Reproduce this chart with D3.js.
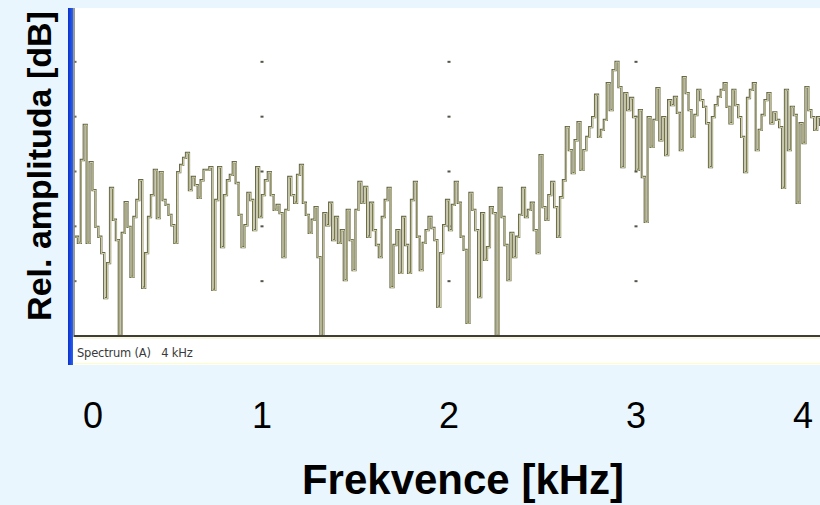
<!DOCTYPE html>
<html>
<head>
<meta charset="utf-8">
<script src="https://cdn.jsdelivr.net/npm/d3@7/dist/d3.min.js"></script>
<style>
  html, body { margin: 0; padding: 0; background: #eaf6fd; }
  svg { display: block; }
</style>
</head>
<body>
<svg id="chart" width="820" height="505"></svg>
<script>
// ---- data ----------------------------------------------------------------
const maxFreqKHz = 4;
const xTickValues = [0, 1, 2, 3, 4];
const xTickLabels = ["0", "1", "2", "3", "4"];
const gridLevelsDb = [-10, -20, -30, -40, -50];
const xTitle = "Frekvence [kHz]";
const yTitle = "Rel. amplituda [dB]";
const statusText = "Spectrum (A)   4 kHz";

// relative amplitude per FFT bin (256 bins spanning 0–4 kHz), dB
const amplitudeDb = [
  -41.9, -43.0, -27.9, -21.5, -43.0, -28.3, -33.4, -40.1, -41.9, -44.9,
  -53.1, -46.7, -33.0, -38.8, -42.5, -60.0, -41.2, -35.6, -40.1, -49.2,
  -38.3, -35.2, -31.6, -51.2, -44.9, -38.3, -34.3, -29.7, -38.5, -30.1,
  -35.2, -36.1, -37.9, -39.8, -43.0, -30.1, -28.8, -27.5, -26.6, -33.4,
  -31.0, -32.5, -34.8, -31.6, -29.7, -29.7, -29.2, -51.6, -35.2, -29.2,
  -43.8, -34.3, -31.6, -30.6, -28.3, -32.1, -37.9, -43.8, -39.8, -33.9,
  -35.2, -40.7, -29.2, -38.3, -34.3, -31.6, -30.1, -34.3, -37.0, -36.1,
  -37.6, -45.6, -37.0, -31.0, -34.3, -35.7, -30.6, -28.8, -35.7, -37.9,
  -41.2, -38.8, -36.5, -45.6, -60.0, -37.6, -39.8, -35.7, -42.5, -38.3,
  -43.0, -40.7, -49.8, -37.0, -42.5, -48.0, -37.0, -31.9, -35.7, -32.8,
  -41.9, -35.7, -40.7, -43.4, -45.6, -38.3, -35.2, -33.0, -51.1, -43.4,
  -40.7, -48.5, -38.3, -43.4, -48.5, -35.2, -31.9, -41.9, -48.0, -43.0,
  -40.7, -38.3, -40.3, -42.5, -54.7, -44.9, -39.8, -35.2, -40.7, -36.1,
  -31.9, -35.7, -41.9, -44.3, -57.6, -33.9, -37.0, -40.7, -52.9, -37.6,
  -46.1, -43.8, -36.5, -37.6, -60.0, -33.0, -38.3, -43.4, -49.8, -41.2,
  -45.6, -41.9, -37.9, -33.0, -38.3, -37.0, -35.7, -40.7, -44.9, -27.0,
  -36.5, -38.8, -34.3, -31.9, -36.5, -41.9, -34.7, -31.6, -21.9, -26.1,
  -30.3, -24.3, -21.0, -29.7, -26.1, -23.7, -21.9, -20.1, -16.0, -23.7,
  -22.4, -20.6, -13.9, -18.8, -11.5, -10.0, -14.6, -29.2, -15.7, -18.8,
  -16.6, -20.1, -29.7, -18.8, -31.0, -39.2, -20.1, -25.5, -20.6, -14.8,
  -24.3, -20.1, -27.0, -17.0, -17.9, -16.4, -19.3, -26.1, -12.8, -15.7,
  -18.8, -23.7, -19.7, -15.1, -17.0, -18.2, -21.2, -29.2, -20.1, -17.9,
  -16.4, -15.1, -13.9, -18.2, -21.2, -15.1, -17.9, -20.1, -23.7, -30.1,
  -16.6, -15.1, -13.9, -26.1, -22.4, -19.7, -17.0, -15.7, -21.2, -19.2,
  -20.6, -21.9, -33.0, -15.1, -26.1, -18.2, -19.7, -35.7, -21.2, -24.8,
  -14.6, -18.8, -20.1, -22.4, -20.1, -21.5
];

// ---- layout ----------------------------------------------------------------
const W = 820, H = 505;
const panel = { left: 68, top: 8, right: 820, bottom: 365 };
const plotLeft = 74, plotBottom = 336;

const svg = d3.select("#chart");

const x = d3.scaleLinear().domain([0, maxFreqKHz]).range([75, 823]);
const y = d3.scaleLinear().domain([-60, 0]).range([plotBottom, 7]);
// frequency labels follow the axis, edge labels pulled inside the window
const labelX = v => Math.min(Math.max(x(v), 93), 803);

svg.append("rect").attr("width", W).attr("height", H).attr("fill", "#eaf6fd");

const defs = svg.append("defs");
const grad = defs.append("linearGradient").attr("id", "edge").attr("x1", 0).attr("x2", 1);
grad.append("stop").attr("offset", 0).attr("stop-color", "#0b2fc8");
grad.append("stop").attr("offset", 1).attr("stop-color", "#2a62f4");
defs.append("clipPath").attr("id", "plotClip")
  .append("rect").attr("x", plotLeft).attr("y", panel.top)
  .attr("width", panel.right - plotLeft).attr("height", plotBottom - panel.top + 1);

// analyser window
svg.append("rect")
  .attr("x", panel.left).attr("y", panel.top)
  .attr("width", panel.right - panel.left).attr("height", panel.bottom - panel.top)
  .attr("fill", "#ffffff");
svg.append("line")
  .attr("x1", panel.left + 2).attr("x2", panel.right)
  .attr("y1", panel.bottom - 1.5).attr("y2", panel.bottom - 1.5)
  .attr("stroke", "#fbfbd6").attr("stroke-width", 1.5);
svg.append("rect")
  .attr("x", panel.left).attr("y", panel.top)
  .attr("width", 5).attr("height", panel.bottom - panel.top)
  .attr("fill", "url(#edge)");

// axis line on the left
svg.append("line")
  .attr("x1", plotLeft).attr("x2", plotLeft)
  .attr("y1", panel.top).attr("y2", plotBottom + 1)
  .attr("stroke", "#7a7a68").attr("stroke-width", 1.5);

// dotted grid: one dot per (frequency, level) crossing, plus level marks on the axis
const gridPts = [];
xTickValues.filter(v => v > 0 && v < maxFreqKHz).forEach(f =>
  gridLevelsDb.forEach(d => gridPts.push([x(f), y(d)])));
svg.append("g").selectAll("rect").data(gridPts).join("rect")
  .attr("x", d => d[0] - 1.5).attr("y", d => d[1] - 1)
  .attr("width", 3).attr("height", 2).attr("fill", "#555548");
svg.append("g").selectAll("rect").data(gridLevelsDb).join("rect")
  .attr("x", plotLeft + 0.5).attr("y", d => y(d) - 1)
  .attr("width", 2).attr("height", 2).attr("fill", "#6a6a5a");

// spectrum trace (stepped bins)
const binWidth = maxFreqKHz / amplitudeDb.length;
const pts = amplitudeDb.map((v, i) => [i * binWidth, v]);
pts.push([maxFreqKHz, amplitudeDb[amplitudeDb.length - 1]]);
const line = d3.line().x(d => x(d[0])).y(d => y(d[1])).curve(d3.curveStepAfter);

const trace = svg.append("g").attr("clip-path", "url(#plotClip)");
trace.append("path").datum(pts).attr("d", line)
  .attr("fill", "none").attr("stroke", "#66664c").attr("stroke-width", 2.3)
  .attr("stroke-linejoin", "miter");
trace.append("path").datum(pts).attr("d", line)
  .attr("fill", "none").attr("stroke", "#eeeebb").attr("stroke-width", 0.8)
  .attr("transform", "translate(0.3,0.3)");

// baseline of the spectrum pane
svg.append("line")
  .attr("x1", plotLeft).attr("x2", panel.right)
  .attr("y1", plotBottom).attr("y2", plotBottom)
  .attr("stroke", "#3e3e34").attr("stroke-width", 2);
svg.append("line")
  .attr("x1", plotLeft).attr("x2", panel.right)
  .attr("y1", plotBottom + 2).attr("y2", plotBottom + 2)
  .attr("stroke", "#eeeec6").attr("stroke-width", 1);

// status bar text
svg.append("text")
  .attr("x", 77).attr("y", 357)
  .attr("font-family", "'DejaVu Sans', sans-serif")
  .attr("font-size", 11.5).attr("letter-spacing", -0.2)
  .attr("fill", "#3a3a3a")
  .style("white-space", "pre")
  .text(statusText);

// frequency labels
svg.append("g").selectAll("text").data(xTickValues).join("text")
  .attr("x", d => labelX(d)).attr("y", 428)
  .attr("text-anchor", "middle")
  .attr("font-family", "'Liberation Sans', Arial, sans-serif")
  .attr("font-size", 36).attr("fill", "#000")
  .text((d, i) => xTickLabels[i]);

// axis titles
svg.append("text")
  .attr("x", 463).attr("y", 494)
  .attr("text-anchor", "middle")
  .attr("font-family", "'Liberation Sans', Arial, sans-serif")
  .attr("font-weight", "bold").attr("font-size", 42).attr("fill", "#000")
  .text(xTitle);

svg.append("text")
  .attr("transform", "translate(51,166) rotate(-90)")
  .attr("text-anchor", "middle")
  .attr("font-family", "'Liberation Sans', Arial, sans-serif")
  .attr("font-weight", "bold").attr("font-size", 34).attr("fill", "#000")
  .text(yTitle);
</script>
</body>
</html>
